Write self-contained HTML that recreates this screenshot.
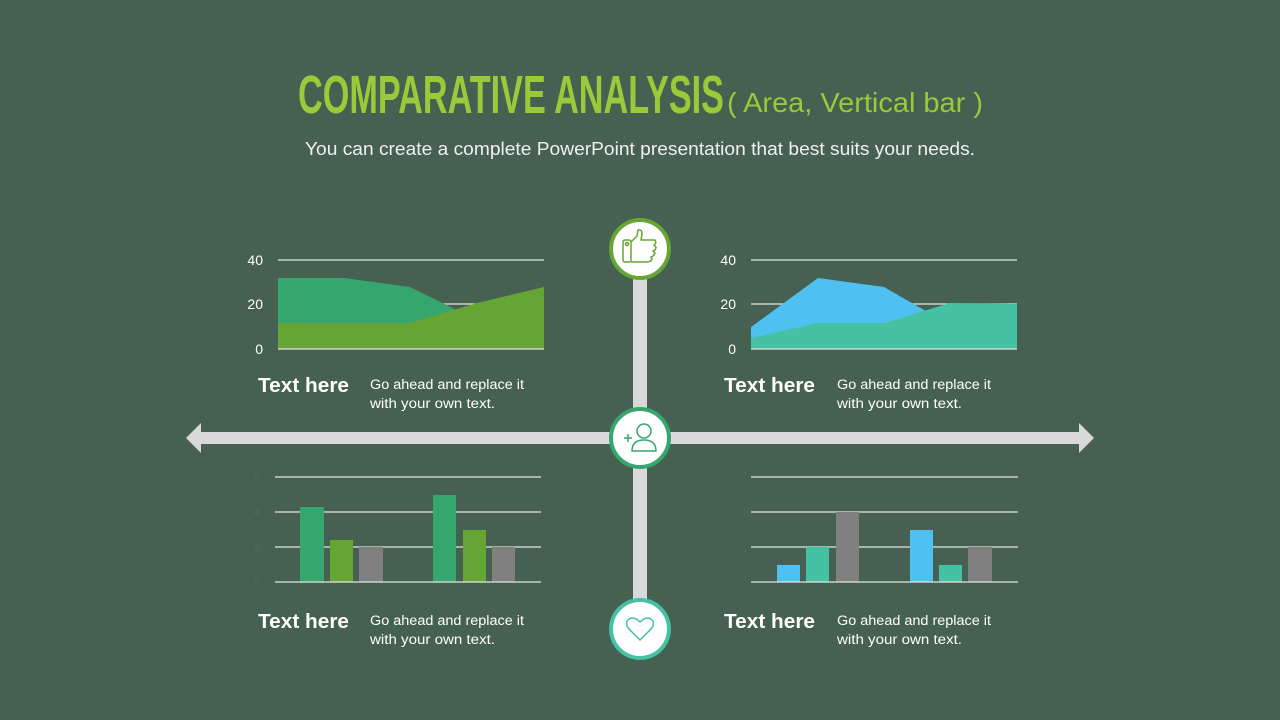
<!DOCTYPE html>
<html><head><meta charset="utf-8"><style>
html,body{margin:0;padding:0;background:#466052;}
svg{display:block}
text{font-family:"Liberation Sans",sans-serif}
</style></head><body>
<svg width="1280" height="720" viewBox="0 0 1280 720" xmlns="http://www.w3.org/2000/svg">
<rect width="1280" height="720" fill="#466052"/>
<text x="298" y="113" font-size="54" font-weight="bold" fill="#9ac93a" textLength="426" lengthAdjust="spacingAndGlyphs">COMPARATIVE ANALYSIS</text>
<text x="727" y="112" font-size="28" fill="#9ac93a" textLength="256" lengthAdjust="spacingAndGlyphs">( Area, Vertical bar )</text>
<text x="640" y="155" font-size="18" fill="#f0f0f0" text-anchor="middle" textLength="670" lengthAdjust="spacingAndGlyphs">You can create a complete PowerPoint presentation that best suits your needs.</text>

<rect x="200" y="432" width="880" height="12" fill="#d9d9d9"/>
<polygon points="186,438 201,423 201,453" fill="#d9d9d9"/>
<polygon points="1094,438 1079,423 1079,453" fill="#d9d9d9"/>
<rect x="633" y="250" width="14" height="380" fill="#d9d9d9"/>

<g font-size="14" fill="#fff">
<text x="263" y="265" text-anchor="end">40</text>
<text x="263" y="309" text-anchor="end">20</text>
<text x="263" y="354" text-anchor="end">0</text>
</g>
<line x1="278" y1="260" x2="544" y2="260" stroke="#e6e6e6" stroke-width="1.2"/>
<line x1="278" y1="304" x2="544" y2="304" stroke="#e6e6e6" stroke-width="1.2"/>
<polygon points="278,278 344,278 410,287 477,320 544,330 544,349 278,349" fill="#36a66f"/>
<polygon points="278,323 410,323 477,303 544,287 544,349 278,349" fill="#65a534"/>
<line x1="278" y1="349" x2="544" y2="349" stroke="#e6e6e6" stroke-width="1.2"/>

<g font-size="14" fill="#fff">
<text x="736" y="265" text-anchor="end">40</text>
<text x="736" y="309" text-anchor="end">20</text>
<text x="736" y="354" text-anchor="end">0</text>
</g>
<line x1="751" y1="260" x2="1017" y2="260" stroke="#e6e6e6" stroke-width="1.2"/>
<line x1="751" y1="304" x2="1017" y2="304" stroke="#e6e6e6" stroke-width="1.2"/>
<polygon points="751,327 818,278 884,287 950,325 1017,335 1017,349 751,349" fill="#4fc1f0"/>
<polygon points="751,338 818,323 884,323 950,303 1017,304 1017,349 751,349" fill="#45c2a4"/>
<line x1="751" y1="349" x2="1017" y2="349" stroke="#e6e6e6" stroke-width="1.2"/>

<g font-size="11" fill="#506a5b">
<text x="260" y="481" text-anchor="end">6</text><text x="260" y="516" text-anchor="end">4</text><text x="260" y="551" text-anchor="end">2</text><text x="260" y="586" text-anchor="end">0</text>
</g>
<g stroke="#e6e6e6" stroke-width="1.2">
<line x1="275" y1="477" x2="541" y2="477"/><line x1="275" y1="512" x2="541" y2="512"/><line x1="275" y1="547" x2="541" y2="547"/>
</g>
<rect x="300" y="507" width="24" height="75" fill="#36a66f"/>
<rect x="330" y="540" width="23" height="42" fill="#65a534"/>
<rect x="359" y="547" width="24" height="35" fill="#808080"/>
<rect x="433" y="495" width="23" height="87" fill="#36a66f"/>
<rect x="463" y="530" width="23" height="52" fill="#65a534"/>
<rect x="492" y="547" width="23" height="35" fill="#808080"/>
<line x1="275" y1="582" x2="541" y2="582" stroke="#e6e6e6" stroke-width="1.2"/>

<g stroke="#e6e6e6" stroke-width="1.2">
<line x1="751" y1="477" x2="1018" y2="477"/><line x1="751" y1="512" x2="1018" y2="512"/><line x1="751" y1="547" x2="1018" y2="547"/>
</g>
<rect x="777" y="565" width="23" height="17" fill="#4fc1f0"/>
<rect x="806" y="547" width="23" height="35" fill="#45c2a4"/>
<rect x="836" y="512" width="23" height="70" fill="#808080"/>
<rect x="910" y="530" width="23" height="52" fill="#4fc1f0"/>
<rect x="939" y="565" width="23" height="17" fill="#45c2a4"/>
<rect x="968" y="547" width="24" height="35" fill="#808080"/>
<line x1="751" y1="582" x2="1018" y2="582" stroke="#e6e6e6" stroke-width="1.2"/>

<g fill="#fff">
<text x="258" y="392" font-size="20" font-weight="bold" textLength="91" lengthAdjust="spacingAndGlyphs">Text here</text>
<text x="370" y="389" font-size="13.5" textLength="154" lengthAdjust="spacingAndGlyphs">Go ahead and replace it</text>
<text x="370" y="408" font-size="13.5" textLength="125" lengthAdjust="spacingAndGlyphs">with your own text.</text>
<text x="724" y="392" font-size="20" font-weight="bold" textLength="91" lengthAdjust="spacingAndGlyphs">Text here</text>
<text x="837" y="389" font-size="13.5" textLength="154" lengthAdjust="spacingAndGlyphs">Go ahead and replace it</text>
<text x="837" y="408" font-size="13.5" textLength="125" lengthAdjust="spacingAndGlyphs">with your own text.</text>
<text x="258" y="628" font-size="20" font-weight="bold" textLength="91" lengthAdjust="spacingAndGlyphs">Text here</text>
<text x="370" y="625" font-size="13.5" textLength="154" lengthAdjust="spacingAndGlyphs">Go ahead and replace it</text>
<text x="370" y="644" font-size="13.5" textLength="125" lengthAdjust="spacingAndGlyphs">with your own text.</text>
<text x="724" y="628" font-size="20" font-weight="bold" textLength="91" lengthAdjust="spacingAndGlyphs">Text here</text>
<text x="837" y="625" font-size="13.5" textLength="154" lengthAdjust="spacingAndGlyphs">Go ahead and replace it</text>
<text x="837" y="644" font-size="13.5" textLength="125" lengthAdjust="spacingAndGlyphs">with your own text.</text>
</g>

<circle cx="640" cy="249" r="29" fill="#fff" stroke="#65a534" stroke-width="4"/>
<g fill="none" stroke="#65a534" stroke-width="1.5" stroke-linejoin="round">
<rect x="623" y="240" width="8" height="22" rx="2"/>
<circle cx="627" cy="244" r="1.5"/>
<path d="M631,242 L637,236 L638,230 Q642,229 642,234 L641,240 L655,240 Q657,243 654,245 L656,247 Q656,250 653,251 L655,253 Q654,256 651,257 L652,259 Q651,262 647,262 L631,262"/>
</g>
<circle cx="640" cy="438" r="29" fill="#fff" stroke="#36a66f" stroke-width="4"/>
<g fill="none" stroke="#36a66f" stroke-width="1.5">
<circle cx="644" cy="431" r="7"/>
<path d="M632,451 Q632,440 644,440 Q656,440 656,451 Z"/>
<path d="M624,438 L632,438 M628,434 L628,442"/>
</g>
<circle cx="640" cy="629" r="29" fill="#fff" stroke="#45c2a4" stroke-width="4"/>
<path d="M640,640 L629,629 Q624,623 629,619 Q634,616 640,622 Q646,616 651,619 Q656,623 651,629 Z" fill="none" stroke="#45c2a4" stroke-width="1.5"/>
</svg>
</body></html>
